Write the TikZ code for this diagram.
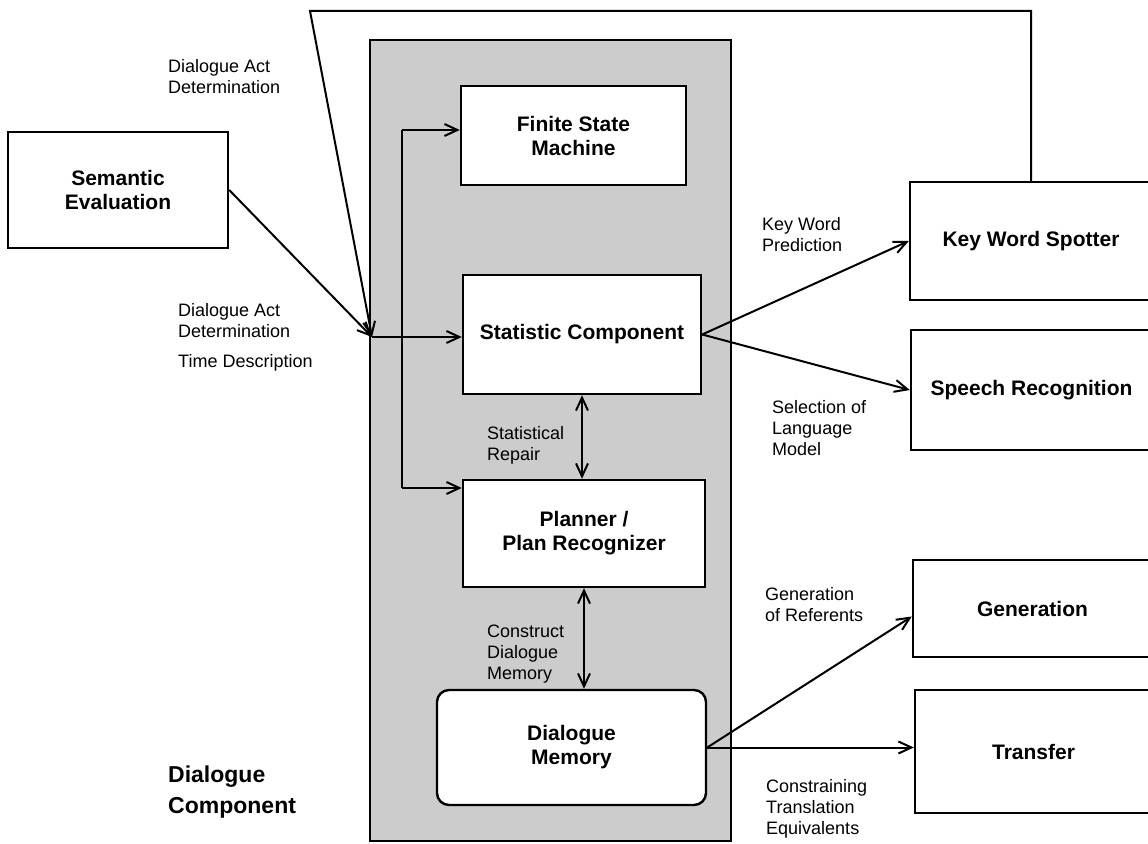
\documentclass[tikz,border=0pt]{standalone}
\usepackage{fontspec}
\setmainfont{Liberation Sans}
\usetikzlibrary{arrows.meta}
\begin{document}
\begin{tikzpicture}[x=1pt,y=-1pt,>={Straight Barb[length=13pt,width=12pt]},
    box/.style={draw,line width=2.4pt,fill=white,align=center,inner sep=0pt,
      font=\fontsize{21}{24}\selectfont\bfseries},
    lbl/.style={anchor=north west,align=left,inner sep=0pt,
      font=\fontsize{18}{21}\selectfont},
    conn/.style={line width=2pt}]
  \useasboundingbox (0,0) rectangle (1148,843);
  \node[draw,line width=2.4pt,fill=black!20,minimum width=361pt,minimum height=801pt] (dcbox) at (550.5,440.5) {};
  \node[box,minimum width=220pt,minimum height=116pt] (sem) at (118,190) {Semantic\\Evaluation};
  \node[box,minimum width=225pt,minimum height=99pt] (fsm) at (573.5,135.5) {Finite State\\Machine};
  \node[box,minimum width=238pt,minimum height=119pt] (stat) at (582,334.5) {Statistic Component};
  \node[box,minimum width=242pt,minimum height=107pt] (plan) at (584,533.5) {Planner /\\Plan Recognizer};
  \node[box,rounded corners=12pt,minimum width=269pt,minimum height=115pt] (mem) at (571.5,747.5) {Dialogue\\Memory};
  \node[box,minimum width=242pt,minimum height=118pt] (kws) at (1031,241) {Key Word Spotter};
  \node[box,minimum width=241pt,minimum height=120pt] (speech) at (1031.5,390) {Speech Recognition};
  \node[box,minimum width=239pt,minimum height=97pt] (gen) at (1032.5,608.5) {Generation};
  \node[box,minimum width=237pt,minimum height=123pt] (trans) at (1033.5,751.5) {Transfer};
  \coordinate (j) at (372,337);
  \coordinate (tl) at (310,11);
  \coordinate (fb) at (402,130);
  \coordinate (pb) at (402,488);
  \draw[conn,->] (sem.east) -- (j);
  \draw[conn,->] (kws.north) |- (tl) -- (j);
  \draw[conn,->] (j) -- (stat.west |- j);
  \draw[conn] (fb) -- (pb);
  \draw[conn,->] (fb) -- (fsm.west |- fb);
  \draw[conn,->] (pb) -- (plan.west |- pb);
  \draw[conn,<->] (stat.south) -- (stat.south |- plan.north);
  \draw[conn,<->] (plan.south) -- (plan.south |- mem.north);
  \draw[conn,->] (stat.east) -- (kws.west);
  \draw[conn,->] (stat.east) -- (speech.west);
  \draw[conn,->] (mem.east) -- ([yshift=-8pt]gen.west);
  \draw[conn,->] (mem.east) -- (trans.west |- mem.east);
  \node[lbl] (l1) at (168,59) {Dialogue Act\\Determination};
  \node[lbl] (l2) at (178,303) {Dialogue Act\\Determination};
  \node[lbl] (l3) at (178,354) {Time Description};
  \node[lbl] (l4) at (762,217) {Key Word\\Prediction};
  \node[lbl] (l5) at (772,400) {Selection of\\Language\\Model};
  \node[lbl] (l6) at (487,426) {Statistical\\Repair};
  \node[lbl] (l7) at (487,625) {Construct\\Dialogue\\Memory};
  \node[lbl] (l8) at (765,587) {Generation\\of Referents};
  \node[lbl] (l9) at (766,779) {Constraining\\Translation\\Equivalents};
  \node[lbl,font=\fontsize{23}{31}\selectfont\bfseries] (dc) at (168,766) {Dialogue\\Component};
\end{tikzpicture}
\end{document}
